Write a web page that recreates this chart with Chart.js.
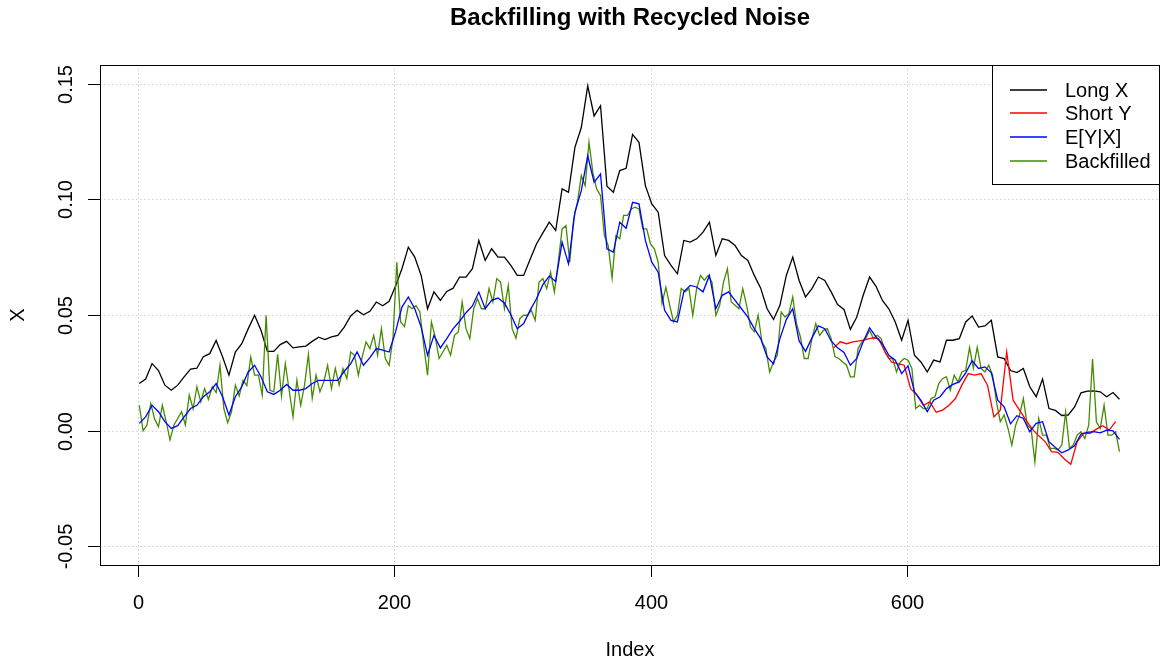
<!DOCTYPE html>
<html>
<head>
<meta charset="utf-8">
<script src="https://cdn.jsdelivr.net/npm/chart.js@4.4.1/dist/chart.umd.min.js"></script>
<style>
  html, body { margin: 0; padding: 0; background: #ffffff; }
  canvas { display: block; }
</style>
</head>
<body>
<canvas id="chart" width="1163" height="663"></canvas>
<script>
// Long X: observed every 5th index starting at 1
const longXStart = 1, longXStep = 5;
const longX = [
  0.0204, 0.0223, 0.029, 0.026, 0.0197, 0.0175, 0.0197, 0.0233, 0.0266, 0.027,
  0.032, 0.0333, 0.039, 0.032, 0.024, 0.034, 0.0376, 0.044, 0.0499, 0.0434,
  0.0343, 0.0343, 0.0372, 0.0386, 0.0358, 0.0362, 0.0366, 0.0386, 0.0404, 0.0394,
  0.0405, 0.0412, 0.0448, 0.0496, 0.052, 0.0501, 0.0516, 0.0556, 0.054, 0.0559,
  0.0624, 0.070, 0.0793, 0.075, 0.0671, 0.0527, 0.060, 0.0563, 0.0602, 0.0616,
  0.0664, 0.0664, 0.070, 0.0822, 0.0736, 0.0786, 0.075, 0.075, 0.0714, 0.0671,
  0.0671, 0.074, 0.0807, 0.0855, 0.0901, 0.0865, 0.1045, 0.103, 0.1224, 0.131,
  0.149, 0.136, 0.1404, 0.1056, 0.103, 0.1124, 0.1134, 0.128, 0.1246, 0.1059,
  0.098, 0.0944, 0.0757, 0.0714, 0.0678, 0.0822, 0.0815, 0.0829, 0.0858, 0.0901,
  0.0757, 0.0829, 0.0822, 0.080, 0.0757, 0.0736, 0.0671, 0.0616, 0.0527, 0.0481,
  0.0542, 0.0671, 0.075, 0.0649, 0.0578, 0.0614, 0.0664, 0.0649, 0.060, 0.0545,
  0.0524, 0.0438, 0.0491, 0.0585, 0.0664, 0.0624, 0.0563, 0.0527, 0.047, 0.0391,
  0.0477, 0.0326, 0.0297, 0.0254, 0.0305, 0.0297, 0.0391, 0.0391, 0.0398, 0.047,
  0.0496, 0.0448, 0.0453, 0.0477, 0.0319, 0.0312, 0.026, 0.0251, 0.0269, 0.019,
  0.0147, 0.0223, 0.0096, 0.0088, 0.0066, 0.0068, 0.0103, 0.0164, 0.0171, 0.0172,
  0.0168, 0.0147, 0.0165, 0.0136
];

// E[Y|X]: every 5th index starting at 1
const eyxStart = 1, eyxStep = 5;
const eyx = [
  0.0032, 0.006, 0.011, 0.0082, 0.0039, 0.001, 0.0022, 0.006, 0.0096, 0.011,
  0.0147, 0.0168, 0.0204, 0.0147, 0.0068, 0.0147, 0.019, 0.0254, 0.0283, 0.0233,
  0.0168, 0.0157, 0.0175, 0.020, 0.0175, 0.0175, 0.0182, 0.0204, 0.0218, 0.0218,
  0.0218, 0.0218, 0.0257, 0.0289, 0.034, 0.0283, 0.0316, 0.0355, 0.0348, 0.034,
  0.0427, 0.0534, 0.0578, 0.0527, 0.0448, 0.0326, 0.0412, 0.0358, 0.0398, 0.0441,
  0.0473, 0.051, 0.0539, 0.0599, 0.0527, 0.0563, 0.0573, 0.0552, 0.0501, 0.0441,
  0.0463, 0.052, 0.057, 0.0631, 0.0668, 0.0645, 0.0815, 0.0721, 0.0944, 0.1037,
  0.1188, 0.1073, 0.1109, 0.0786, 0.0772, 0.0901, 0.0875, 0.0987, 0.098, 0.0822,
  0.0728, 0.0685, 0.052, 0.0477, 0.047, 0.060, 0.0628, 0.0621, 0.060, 0.0671,
  0.0527, 0.0585, 0.060, 0.0563, 0.0527, 0.0491, 0.0441, 0.0398, 0.0319, 0.0289,
  0.0398, 0.048, 0.0527, 0.0388, 0.0343, 0.0401, 0.0453, 0.0441, 0.0388, 0.0358,
  0.0338, 0.0283, 0.0312, 0.0384, 0.0445, 0.0405, 0.0376, 0.0326, 0.0305, 0.0247,
  0.028, 0.0168, 0.0132, 0.0082, 0.0132, 0.0147, 0.0182, 0.020, 0.0211, 0.025,
  0.0303, 0.0269, 0.0276, 0.025, 0.0132, 0.0103, 0.003, 0.0065, 0.0053, -0.0004,
  0.0032, 0.0039, -0.0047, -0.0072, -0.0095, -0.0083, -0.0065, -0.0014, -0.0007, -0.0004,
  -0.0009, 0.0003, -0.0001, -0.0037
];

// Backfilled: every 3rd index starting at 1
const backStart = 1, backStep = 3;
const backfilled = [
  0.011, 0.000, 0.0024, 0.0118, 0.005, 0.0017, 0.011, 0.0039, -0.004, 0.0024,
  0.0053, 0.0082, 0.0025, 0.0154, 0.0095, 0.019, 0.0125, 0.0182, 0.0135, 0.019,
  0.0165, 0.0283, 0.0096, 0.0035, 0.0082, 0.0197, 0.015, 0.0218, 0.0195, 0.0318,
  0.024, 0.024, 0.0154, 0.0499, 0.0175, 0.0168, 0.033, 0.015, 0.029, 0.0175,
  0.006, 0.0218, 0.011, 0.0197, 0.033, 0.014, 0.024, 0.0168, 0.0211, 0.0283,
  0.0182, 0.0269, 0.0197, 0.0269, 0.0226, 0.034, 0.0326, 0.024, 0.0319, 0.0384,
  0.0355, 0.0412, 0.0326, 0.0441, 0.0312, 0.0283, 0.0398, 0.0728, 0.047, 0.045,
  0.054, 0.0527, 0.054, 0.0513, 0.0369, 0.024, 0.047, 0.0405, 0.0312, 0.034,
  0.0369, 0.0326, 0.0412, 0.0427, 0.0556, 0.0441, 0.0398, 0.0527, 0.057, 0.0527,
  0.0527, 0.0614, 0.0556, 0.0657, 0.0642, 0.0527, 0.0628, 0.0441, 0.040, 0.0484,
  0.0499, 0.0499, 0.052, 0.0477, 0.0642, 0.0657, 0.0614, 0.0685, 0.060, 0.0728,
  0.0872, 0.0886, 0.0728, 0.0915, 0.0987, 0.1102, 0.1059, 0.1246, 0.1116, 0.1044,
  0.1016, 0.0843, 0.080, 0.066, 0.0843, 0.0829, 0.093, 0.093, 0.0958, 0.0966,
  0.0958, 0.0872, 0.0872, 0.0807, 0.0786, 0.0728, 0.055, 0.062, 0.0542, 0.047,
  0.0499, 0.0614, 0.060, 0.0614, 0.0499, 0.0614, 0.0671, 0.065, 0.0671, 0.0642,
  0.0499, 0.0542, 0.0642, 0.070, 0.0556, 0.0542, 0.0527, 0.0614, 0.0542, 0.0448,
  0.0427, 0.0499, 0.0384, 0.0355, 0.0254, 0.0297, 0.0326, 0.0513, 0.0491, 0.0506,
  0.0578, 0.0463, 0.0405, 0.0312, 0.0312, 0.0398, 0.0463, 0.0412, 0.0434, 0.0441,
  0.0398, 0.0319, 0.0312, 0.0297, 0.0283, 0.0233, 0.0233, 0.0355, 0.0384, 0.0398,
  0.0434, 0.0398, 0.0412, 0.0398, 0.034, 0.0312, 0.0312, 0.0254, 0.0297, 0.0312,
  0.0305, 0.0269, 0.0096, 0.011, 0.0096, 0.0096, 0.0139, 0.0147, 0.0204, 0.0226,
  0.0233, 0.0175, 0.024, 0.0211, 0.0254, 0.0261, 0.036, 0.027, 0.036, 0.0269,
  0.0254, 0.0283, 0.024, 0.0125, 0.0039, 0.0068, 0.001, -0.0062, 0.0024, 0.0068,
  0.0139, 0.0024, 0.001, -0.0134, 0.0053, -0.0019, -0.0019, -0.0076, -0.0076, -0.0083,
  -0.0062, 0.008, -0.0076, -0.0062, -0.0019, -0.0004, -0.0033, 0.0024, 0.031, 0.0039,
  0.001, 0.011, -0.0019, -0.0019, -0.0004, -0.009
];

// Short Y: only observed on the recent stretch, every 5th index from 543
const shortYStart = 543, shortYStep = 5;
const shortY = [
  0.0358, 0.0384, 0.0376, 0.0384, 0.0388, 0.0394, 0.0401, 0.0398, 0.034, 0.0297,
  0.029, 0.0283, 0.0182, 0.0154, 0.011, 0.0125, 0.008, 0.0089, 0.011, 0.0139,
  0.0197, 0.0247, 0.024, 0.0247, 0.0197, 0.006, 0.0089, 0.034, 0.0132, 0.0089,
  0.0046, 0.0007, -0.0022, -0.0047, -0.009, -0.0093, -0.0122, -0.0145, -0.0047, -0.0011,
  -0.0011, 0.0007, 0.0022, 0.0003, 0.0039
];

const xTicks = [0, 200, 400, 600];
const yTicks = [-0.05, 0, 0.05, 0.10, 0.15];
const yTickLabels = ['-0.05', '0.00', '0.05', '0.10', '0.15'];
const seriesNames = ['Long X', 'Short Y', 'E[Y|X]', 'Backfilled'];
const seriesColors = ['#000000', '#ff0000', '#0000ff', '#458b00'];

const FONT = '"Liberation Sans", Arial, Helvetica, sans-serif';

function toPoints(values, start, step) {
  return values.map((v, i) => ({ x: start + i * step, y: v }));
}

function lineSet(label, values, start, step, color) {
  return {
    label: label,
    data: toPoints(values, start, step),
    borderColor: color,
    backgroundColor: color,
    borderWidth: 1.3,
    pointRadius: 0,
    tension: 0,
    fill: false
  };
}

// base-graphics style frame: dotted grid, box, outside ticks, rotated y labels, legend
const frame = {
  id: 'frame',
  beforeDatasetsDraw(chart) {
    const { ctx, chartArea: a, scales: { x, y } } = chart;
    ctx.save();
    ctx.strokeStyle = '#cfcfcf';
    ctx.lineWidth = 1;
    ctx.setLineDash([1.5, 2.5]);
    xTicks.forEach(t => {
      const px = Math.round(x.getPixelForValue(t)) + 0.5;
      ctx.beginPath(); ctx.moveTo(px, a.top); ctx.lineTo(px, a.bottom); ctx.stroke();
    });
    yTicks.forEach(t => {
      const py = Math.round(y.getPixelForValue(t)) + 0.5;
      ctx.beginPath(); ctx.moveTo(a.left, py); ctx.lineTo(a.right, py); ctx.stroke();
    });
    ctx.restore();
  },
  afterDraw(chart) {
    const { ctx, chartArea: a, scales: { x, y } } = chart;
    ctx.save();
    ctx.setLineDash([]);
    ctx.strokeStyle = '#000000';
    ctx.fillStyle = '#000000';
    ctx.lineWidth = 1;

    // plot box
    ctx.strokeRect(Math.round(a.left) + 0.5, Math.round(a.top) + 0.5,
                   Math.round(a.right - a.left) - 1, Math.round(a.bottom - a.top));

    // x axis ticks and labels
    ctx.font = '20px ' + FONT;
    ctx.textAlign = 'center';
    ctx.textBaseline = 'alphabetic';
    xTicks.forEach(t => {
      const px = Math.round(x.getPixelForValue(t)) + 0.5;
      ctx.beginPath(); ctx.moveTo(px, a.bottom); ctx.lineTo(px, a.bottom + 12); ctx.stroke();
      ctx.fillText(String(t), px, a.bottom + 44);
    });

    // y axis ticks and rotated labels
    yTicks.forEach((t, i) => {
      const py = Math.round(y.getPixelForValue(t)) + 0.5;
      ctx.beginPath(); ctx.moveTo(a.left - 12, py); ctx.lineTo(a.left, py); ctx.stroke();
      ctx.save();
      ctx.translate(a.left - 28, py);
      ctx.rotate(-Math.PI / 2);
      ctx.textAlign = 'center';
      ctx.fillText(yTickLabels[i], 0, 0);
      ctx.restore();
    });

    // axis titles
    const cx = (a.left + a.right) / 2;
    const cy = (a.top + a.bottom) / 2;
    ctx.textAlign = 'center';
    ctx.fillText('Index', cx, a.bottom + 91);
    ctx.save();
    ctx.translate(a.left - 76, cy);
    ctx.rotate(-Math.PI / 2);
    ctx.fillText('X', 0, 0);
    ctx.restore();

    // main title
    ctx.font = 'bold 24px ' + FONT;
    ctx.fillText('Backfilling with Recycled Noise', cx, 25);

    // legend box in the top-right corner
    const lx = 992, ly = a.top, lw = a.right - 992, lh = 119;
    ctx.fillStyle = '#ffffff';
    ctx.fillRect(lx, ly, lw, lh);
    ctx.strokeStyle = '#000000';
    ctx.lineWidth = 1;
    ctx.strokeRect(lx + 0.5, ly + 0.5, lw - 1, lh);
    ctx.font = '20px ' + FONT;
    ctx.textAlign = 'left';
    ctx.textBaseline = 'middle';
    seriesNames.forEach((name, i) => {
      const ry = Math.round(ly + 24.5 + i * 23.8);
      ctx.strokeStyle = seriesColors[i];
      ctx.lineWidth = 1.6;
      ctx.beginPath(); ctx.moveTo(1010, ry); ctx.lineTo(1047, ry); ctx.stroke();
      ctx.fillStyle = '#000000';
      ctx.fillText(name, 1065, ry + 1);
    });
    ctx.restore();
  }
};

new Chart(document.getElementById('chart'), {
  type: 'line',
  data: {
    datasets: [
      lineSet(seriesNames[2], eyx, eyxStart, eyxStep, seriesColors[2]),
      lineSet(seriesNames[1], shortY, shortYStart, shortYStep, seriesColors[1]),
      lineSet(seriesNames[3], backfilled, backStart, backStep, seriesColors[3]),
      lineSet(seriesNames[0], longX, longXStart, longXStep, seriesColors[0])
    ]
  },
  options: {
    responsive: false,
    animation: false,
    events: [],
    layout: { padding: { left: 100, top: 65, right: 3, bottom: 98 } },
    plugins: { legend: { display: false }, tooltip: { enabled: false }, title: { display: false } },
    scales: {
      x: { type: 'linear', min: -29.64, max: 797.64, display: false },
      y: { type: 'linear', min: -0.058, max: 0.158, display: false }
    }
  },
  plugins: [frame]
});
</script>
</body>
</html>
